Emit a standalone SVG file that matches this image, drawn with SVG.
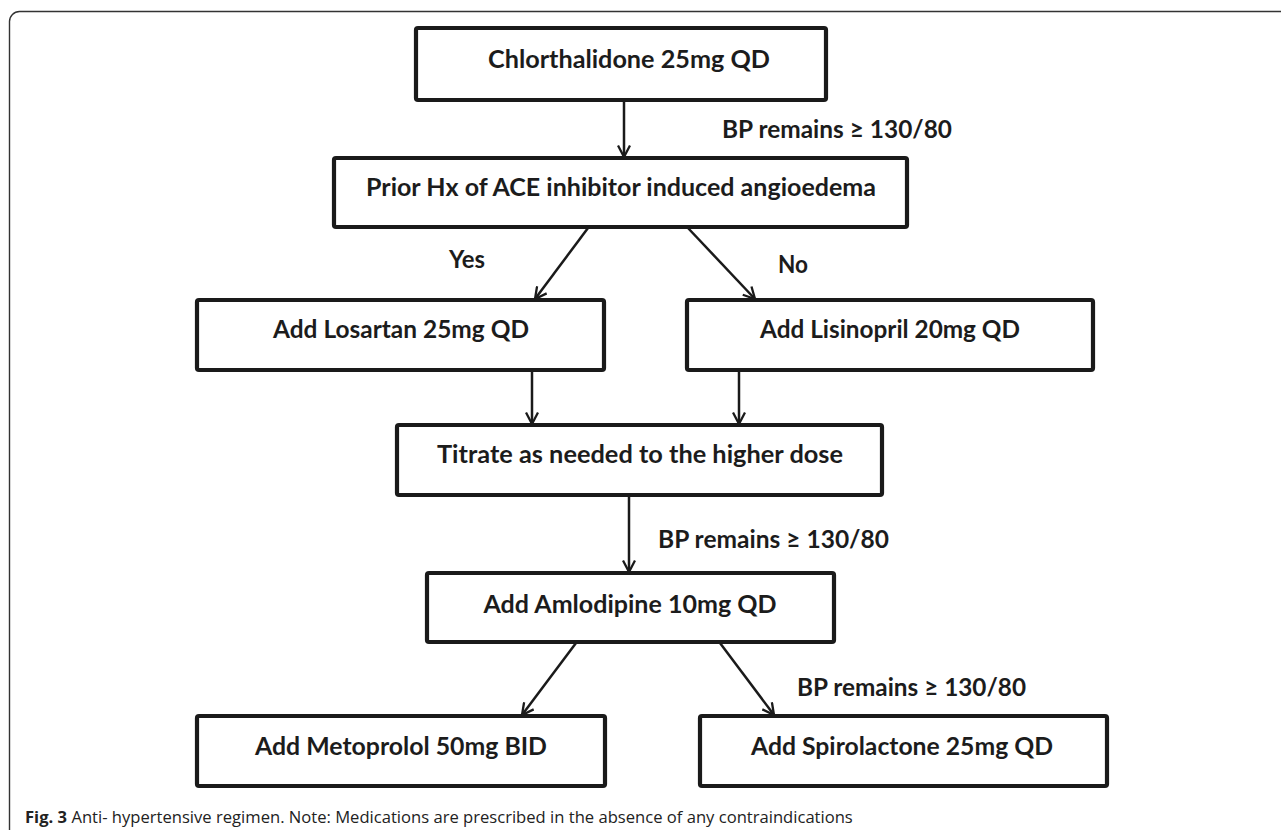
<svg xmlns="http://www.w3.org/2000/svg" width="1281" height="830" viewBox="0 0 1281 830">
<defs>
<style>
.box{fill:#fff;stroke:#1a1a1a;stroke-width:4.2;}
.t{font-family:Lato,"Liberation Sans",sans-serif;font-weight:700;font-size:25px;fill:#1c1c1c;text-anchor:middle;}
.l{font-family:Lato,"Liberation Sans",sans-serif;font-weight:700;font-size:25px;fill:#1c1c1c;}
.c{stroke:#1a1a1a;stroke-width:2.5;fill:none;marker-end:url(#ah);}
.cap{font-family:"Open Sans","Liberation Sans",sans-serif;font-size:16.6px;fill:#222;}
</style>
<marker id="ah" viewBox="0 0 14 14" refX="13" refY="7" markerWidth="14" markerHeight="14" markerUnits="userSpaceOnUse" orient="auto">
<path d="M1.5,1 L13,7 L1.5,13" fill="none" stroke="#1a1a1a" stroke-width="2.3"/>
</marker>
</defs>
<rect width="1281" height="830" fill="#fff"/>
<rect x="9.5" y="11.5" width="1320" height="900" rx="10" fill="none" stroke="#333" stroke-width="1.4"/>

<g id="connectors">
<line class="c" x1="624" y1="100" x2="624" y2="157"/>
<line class="c" x1="588" y1="228" x2="535" y2="299"/>
<line class="c" x1="688" y1="228" x2="755" y2="299"/>
<line class="c" x1="532" y1="366" x2="532" y2="424"/>
<line class="c" x1="739" y1="366" x2="739" y2="424"/>
<line class="c" x1="629" y1="496" x2="629" y2="572"/>
<line class="c" x1="576" y1="643" x2="522" y2="715"/>
<line class="c" x1="720" y1="643" x2="774" y2="715"/>
</g>

<g id="labels">
<text class="l" x="722" y="138" textLength="230" lengthAdjust="spacingAndGlyphs">BP remains ≥ 130/80</text>
<text class="l" x="449" y="268" textLength="36" lengthAdjust="spacingAndGlyphs">Yes</text>
<text class="l" x="778" y="273" textLength="30" lengthAdjust="spacingAndGlyphs">No</text>
<text class="l" x="658" y="548" textLength="231" lengthAdjust="spacingAndGlyphs">BP remains ≥ 130/80</text>
<text class="l" x="797" y="696" textLength="229" lengthAdjust="spacingAndGlyphs">BP remains ≥ 130/80</text>
</g>

<g id="n1">
<rect class="box" x="416" y="28" width="410" height="72" rx="2"/>
<text class="t" x="629" y="68" textLength="282" lengthAdjust="spacingAndGlyphs">Chlorthalidone 25mg QD</text>
</g>
<g id="n2">
<rect class="box" x="334" y="158" width="573" height="69" rx="2"/>
<text class="t" x="621" y="196" textLength="510" lengthAdjust="spacingAndGlyphs">Prior Hx of ACE inhibitor induced angioedema</text>
</g>
<g id="n3">
<rect class="box" x="197" y="300" width="407" height="70" rx="2"/>
<text class="t" x="401" y="338" textLength="256" lengthAdjust="spacingAndGlyphs">Add Losartan 25mg QD</text>
</g>
<g id="n4">
<rect class="box" x="687" y="300" width="406" height="70" rx="2"/>
<text class="t" x="890" y="338" textLength="260" lengthAdjust="spacingAndGlyphs">Add Lisinopril 20mg QD</text>
</g>
<g id="n5">
<rect class="box" x="397" y="425" width="485" height="70" rx="2"/>
<text class="t" x="640" y="463" textLength="406" lengthAdjust="spacingAndGlyphs">Titrate as needed to the higher dose</text>
</g>
<g id="n6">
<rect class="box" x="427" y="573" width="407" height="69" rx="2"/>
<text class="t" x="630" y="613" textLength="293" lengthAdjust="spacingAndGlyphs">Add Amlodipine 10mg QD</text>
</g>
<g id="n7">
<rect class="box" x="197" y="716" width="408" height="70" rx="2"/>
<text class="t" x="401" y="755" textLength="292" lengthAdjust="spacingAndGlyphs">Add Metoprolol 50mg BID</text>
</g>
<g id="n8">
<rect class="box" x="700" y="716" width="407" height="70" rx="2"/>
<text class="t" x="902" y="755" textLength="302" lengthAdjust="spacingAndGlyphs">Add Spirolactone 25mg QD</text>
</g>

<text class="cap" x="25" y="823"><tspan font-weight="700">Fig. 3</tspan> Anti- hypertensive regimen. Note: Medications are prescribed in the absence of any contraindications</text>
</svg>
